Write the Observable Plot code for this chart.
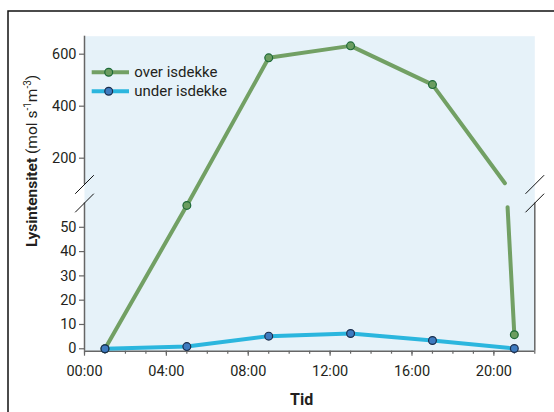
<!DOCTYPE html>
<html><head><meta charset="utf-8">
<script src="https://cdn.jsdelivr.net/npm/d3@7"></script>
<script src="https://cdn.jsdelivr.net/npm/@observablehq/plot@0.6"></script>
<style>
body{margin:0;background:#fff;}
#wrap{position:relative;width:554px;height:412px;overflow:hidden;font-family:Roboto,sans-serif;}
#wrap svg{position:absolute;left:0;top:0;}
</style></head><body><div id="wrap"></div>
<script>
// ---- data ----
const times = [1, 5, 9, 13, 17, 21];                 // hours
const overIsdekke = [0, 59, 586, 632, 483, 5.8];
const underIsdekke = [0, 0.9, 5.2, 6.3, 3.4, 0.1];
// where the green line is cut at the axis break (line ends, no markers)
const overCutTimes = [20.54, 20.67];
const overCutValues = [103.8, 58.3];
const seriesNames = ["over isdekke", "under isdekke"];
const xTickHours = [0, 4, 8, 12, 16, 20];
const xMinorHours = d3.range(0, 23, 1);
const yTicks = [0, 10, 20, 30, 40, 50, 200, 400, 600];
// broken y axis: lower part -1..60, upper part 98.8..669.2
const yLower = [-1, 60];
const yUpper = [98.8, 669.2];

const GREEN = "#72a064", GREEN_DOT = "#6b9d60", GREEN_EDGE = "#1d6a38";
const BLUE = "#2bb6de", BLUE_DOT = "#3e7bc0", BLUE_EDGE = "#1a2d4c";
const BG = "#e6f2f9", AXIS = "#666", INK = "#231f20";
const TICK_FONT = 14.5;

const overPts = times.map((t, i) => ({t, v: overIsdekke[i]}));
const underPts = times.map((t, i) => ({t, v: underIsdekke[i]}));
const overLine = [
  ...times.slice(0, 5).map((t, i) => ({t, v: overIsdekke[i], seg: "a"})),
  {t: overCutTimes[0], v: overCutValues[0], seg: "a"},
  {t: overCutTimes[1], v: overCutValues[1], seg: "b"},
  {t: times[5], v: overIsdekke[5], seg: "b"}
];

const slash = {draw(ctx) { ctx.moveTo(-9.3, 9.3); ctx.lineTo(9.3, -9.3); }};
const breakPts = [
  {t: 0, v: yLower[1]}, {t: 0, v: yUpper[0]},
  {t: 22, v: yLower[1]}, {t: 22, v: yUpper[0]}
];

const plot = Plot.plot({
  width: 554, height: 412,
  marginLeft: 84, marginRight: 19.7, marginTop: 35.7, marginBottom: 61.3,
  x: {domain: [0, 22]},
  y: {type: "linear", domain: [yLower[0], yLower[1], yUpper[0], yUpper[1]], range: [350.7, 202.5, 184, 35.7]},
  style: {fontFamily: "Roboto, sans-serif", fontSize: TICK_FONT + "px", color: INK, background: "transparent", overflow: "visible"},
  marks: [
    Plot.frame({fill: BG, stroke: null}),
    Plot.axisX({ticks: xMinorHours, tickSize: 3, stroke: AXIS, strokeWidth: 1.2, tickFormat: () => "", label: null}),
    Plot.axisX({ticks: xTickHours, tickSize: 5, tickPadding: 10, stroke: AXIS, strokeWidth: 1.2, fontSize: TICK_FONT,
      tickFormat: h => String(h).padStart(2, "0") + ":00", label: null, fill: INK}),
    Plot.axisY({ticks: yTicks, tickSize: 5, tickPadding: 3, stroke: AXIS, strokeWidth: 1.2, fontSize: TICK_FONT,
      label: null, fill: INK}),
    Plot.ruleY([yLower[0]], {x1: 0, x2: 22, stroke: AXIS, strokeWidth: 1.5}),
    Plot.ruleX([0], {y1: yLower[0], y2: yLower[1], stroke: AXIS, strokeWidth: 1.5}),
    Plot.ruleX([0], {y1: yUpper[0], y2: yUpper[1], stroke: AXIS, strokeWidth: 1.5}),
    Plot.ruleX([22], {y1: yLower[0], y2: yLower[1], stroke: AXIS, strokeWidth: 1.5}),
    Plot.dot(breakPts, {x: "t", y: "v", symbol: slash, r: 5, stroke: "#111", strokeWidth: 1, fill: "none"}),
    Plot.line(overLine, {x: "t", y: "v", z: "seg", stroke: GREEN, strokeWidth: 4}),
    Plot.line(underPts, {x: "t", y: "v", stroke: BLUE, strokeWidth: 4}),
    Plot.dot(overPts, {x: "t", y: "v", r: 3.9, fill: GREEN_DOT, stroke: GREEN_EDGE, strokeWidth: 1.2}),
    Plot.dot(underPts, {x: "t", y: "v", r: 3.9, fill: BLUE_DOT, stroke: BLUE_EDGE, strokeWidth: 1.2})
  ]
});
document.getElementById("wrap").appendChild(plot);

// ---- overlay: frame, titles, legend ----
const svg = d3.select("#wrap").append("svg").attr("width", 554).attr("height", 412)
  .style("font-family", "Roboto, sans-serif").style("pointer-events", "none");
svg.append("path").attr("d", "M8,412V11H554").attr("fill", "none").attr("stroke", "#111").attr("stroke-width", 1.5);

const yt = svg.append("text").attr("transform", "translate(36.5,247) rotate(-90)")
  .attr("fill", INK).attr("font-size", 15.5);
yt.append("tspan").attr("font-weight", "bold").text("Lysintensitet");
yt.append("tspan").text(" (mol s");
yt.append("tspan").attr("font-size", 10).attr("dy", -6).text("-1");
yt.append("tspan").attr("dy", 6).text("m");
yt.append("tspan").attr("font-size", 10).attr("dy", -6).text("-3");
yt.append("tspan").attr("dy", 6).text(")");

svg.append("text").attr("x", 301.7).attr("y", 405).attr("text-anchor", "middle")
  .attr("font-weight", "bold").attr("font-size", 16).attr("fill", INK).text("Tid");

const leg = [
  {name: seriesNames[0], y: 72.3, line: GREEN, dot: GREEN_DOT, edge: GREEN_EDGE},
  {name: seriesNames[1], y: 91.2, line: BLUE, dot: BLUE_DOT, edge: BLUE_EDGE}
];
for (const l of leg) {
  svg.append("line").attr("x1", 91.7).attr("x2", 129).attr("y1", l.y).attr("y2", l.y)
    .attr("stroke", l.line).attr("stroke-width", 4);
  svg.append("circle").attr("cx", 108.7).attr("cy", l.y).attr("r", 3.9)
    .attr("fill", l.dot).attr("stroke", l.edge).attr("stroke-width", 1.2);
  svg.append("text").attr("x", 134.3).attr("y", l.y + 5).attr("font-size", 15).attr("fill", INK).text(l.name);
}
</script></body></html>
